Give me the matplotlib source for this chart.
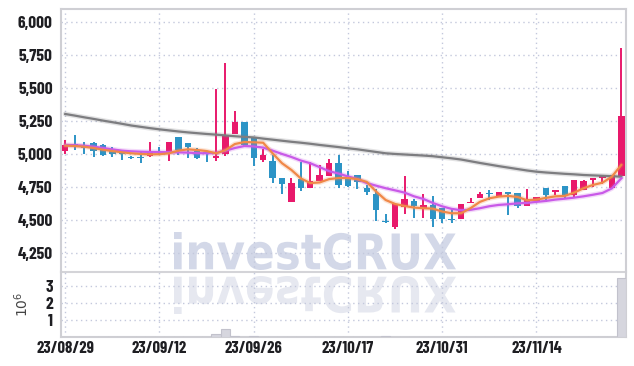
import matplotlib
matplotlib.use("Agg")
import matplotlib.pyplot as plt
import numpy as np
from matplotlib.textpath import TextPath
from matplotlib.font_manager import FontProperties
from matplotlib.patches import PathPatch
from matplotlib.transforms import Affine2D, IdentityTransform

##########################################
# data

dateLabels = ["23/08/29", "23/09/12", "23/09/26", "23/10/17", "23/10/31", "23/11/14"]
dateTicks = [0, 10, 20, 30, 40, 50]

opens = [5025, 5075, 5068, 5083, 5068, 5025, 5020, 4970, 4975, 4987,
         5013, 5008, 5128, 5083, 5025, 5013, 4972, 5003, 5148, 5238,
         5125, 4957, 4947, 4822, 4636, 4812, 4746, 4797, 4837, 4932,
         4807, 4842, 4741, 4699, 4488, 4448, 4599, 4648, 4591, 4611,
         4591, 4507, 4511, 4628, 4669, 4703, 4679, 4714, 4706, 4606,
         4641, 4744, 4711, 4757, 4691, 4724, 4804, 4817, 4742, 4837]
highs = [5105, 5143, 5090, 5090, 5075, 5050, 5025, 4985, 5015, 5090,
         5050, 5088, 5128, 5083, 5045, 5013, 5490, 5690, 5326, 5238,
         5125, 5038, 4992, 4822, 4817, 4937, 4942, 4917, 4962, 4992,
         4872, 4842, 4767, 4736, 4550, 4623, 4837, 4661, 4699, 4686,
         4591, 4581, 4623, 4666, 4716, 4731, 4711, 4714, 4706, 4736,
         4671, 4744, 4731, 4757, 4804, 4804, 4817, 4837, 4842, 5803]
lows = [5000, 5033, 5000, 4975, 4985, 4975, 4957, 4962, 4935, 4977,
        4992, 4945, 4992, 4968, 4962, 4942, 4950, 4983, 5148, 5060,
        4907, 4937, 4782, 4699, 4636, 4721, 4746, 4797, 4837, 4741,
        4750, 4736, 4691, 4490, 4475, 4430, 4548, 4516, 4516, 4450,
        4480, 4480, 4505, 4628, 4669, 4651, 4679, 4535, 4590, 4606,
        4636, 4636, 4690, 4660, 4666, 4724, 4749, 4770, 4742, 4837]
closes = [5068, 5068, 5048, 5025, 4995, 5000, 5000, 4966, 4970, 5013,
          5005, 5088, 5033, 5053, 4968, 5003, 4987, 5143, 5238, 5068,
          4972, 4993, 4817, 4774, 4782, 4746, 4797, 4842, 4932, 4767,
          4757, 4787, 4711, 4580, 4484, 4623, 4661, 4606, 4611, 4511,
          4505, 4503, 4623, 4636, 4701, 4699, 4711, 4699, 4606, 4656,
          4671, 4691, 4731, 4686, 4804, 4799, 4817, 4837, 4842, 5288]

# volume in units of 10^6
volumes = [0.02, 0.02, 0.01, 0.02, 0.01, 0.01, 0.01, 0.01, 0.01, 0.02,
           0.01, 0.02, 0.02, 0.01, 0.02, 0.03, 0.19, 0.48, 0.07, 0.03,
           0.07, 0.02, 0.02, 0.01, 0.02, 0.01, 0.01, 0.01, 0.02, 0.02,
           0.01, 0.01, 0.01, 0.02, 0.07, 0.02, 0.02, 0.01, 0.01, 0.01,
           0.01, 0.01, 0.01, 0.01, 0.01, 0.01, 0.01, 0.01, 0.01, 0.01,
           0.01, 0.01, 0.01, 0.01, 0.02, 0.01, 0.01, 0.01, 0.02, 3.43]

ma5 = [5063, 5060, 5055, 5045, 5032, 5022, 5013, 5005, 5000, 4997,
       4998, 5005, 5025, 5035, 5030, 5022, 5005, 5028, 5075, 5090,
       5088, 5085, 5005, 4930, 4879, 4815, 4780, 4785, 4810, 4818,
       4818, 4810, 4788, 4715, 4652, 4622, 4607, 4595, 4590, 4587,
       4565, 4552, 4552, 4590, 4638, 4665, 4678, 4683, 4675, 4650,
       4655, 4668, 4680, 4683, 4708, 4741, 4766, 4783, 4828, 4917]
ma10 = [5068, 5066, 5062, 5055, 5045, 5035, 5025, 5020, 5017, 5015,
        5014, 5013, 5012, 5010, 5006, 5005, 5008, 5025, 5045, 5060,
        5057, 5048, 5025, 5000, 4977, 4950, 4930, 4900, 4870, 4852,
        4830, 4810, 4780, 4760, 4741, 4725, 4708, 4680, 4660, 4630,
        4604, 4585, 4575, 4578, 4590, 4605, 4615, 4620, 4627, 4630,
        4638, 4645, 4655, 4662, 4670, 4680, 4692, 4705, 4740, 4816]
maLong = [5302, 5290, 5277, 5265, 5252, 5240, 5228, 5215, 5205, 5195,
          5186, 5178, 5170, 5163, 5157, 5151, 5146, 5140, 5134, 5129,
          5125, 5116, 5108, 5100, 5092, 5085, 5077, 5068, 5060, 5052,
          5043, 5035, 5025, 5015, 5005, 5000, 4996, 4992, 4988, 4983,
          4975, 4967, 4958, 4945, 4932, 4920, 4908, 4897, 4886, 4875,
          4866, 4860, 4855, 4850, 4846, 4841, 4838, 4835, 4832, 4828]

priceTicks = [4250, 4500, 4750, 5000, 5250, 5500, 5750, 6000]
volTicks = [1, 2, 3]

##########################################

RED = "#e8196b"
BLUE = "#2c94c6"
GRIDC = "#c3c8dc"
SPINEC = "#cfcfd4"

plt.rcParams['font.family'] = ['Barlow Condensed', 'Archivo Narrow', 'DejaVu Sans']

fig = plt.figure(figsize=(6.34, 3.66), dpi=100)
fig.patch.set_facecolor("white")
axP = fig.add_axes([0.0962, 0.2568, 0.8912, 0.7178])
axV = fig.add_axes([0.0962, 0.0787, 0.8912, 0.1781], sharex=axP)
for ax in (axP, axV):
  ax.set_facecolor("none")

n = len(opens)
idx = np.arange(n)
o = np.array(opens, float)
c = np.array(closes, float)
up = c >= o
cols = [RED if u else BLUE for u in up]

# wicks and bodies
axP.vlines(idx, lows, highs, colors=cols, linewidth=1.4, zorder=3)
bottom = np.minimum(o, c)
height = np.maximum(np.abs(c - o), 8)
axP.bar(idx, height, bottom=bottom, width=0.68, color=cols, linewidth=0, zorder=4)

# moving averages with a soft halo
for vals, col, lw in ((maLong, "#7d7d80", 1.6), (ma10, "#c95ae8", 1.6), (ma5, "#f08848", 1.6)):
  axP.plot(idx, vals, color=col, linewidth=lw + 2.0, alpha=0.22, zorder=5, solid_capstyle="round")
  axP.plot(idx, vals, color=col, linewidth=lw, zorder=6)

axP.set_ylim(4108, 6093)
axP.set_xlim(-0.45, 59.5)
axP.set_yticks(priceTicks)
axP.set_yticklabels(["{:,}".format(t) for t in priceTicks])

# volume
axV.bar(idx, volumes, width=0.98, color="#d6d6de", edgecolor="#c2c2cc", linewidth=0.8, zorder=3)
axV.set_ylim(0, 3.79)
axV.set_yticks(volTicks)
axV.set_yticklabels([str(t) for t in volTicks])
axV.set_ylabel(r"$10^6$", fontsize=10, color="#444444", labelpad=10)

axV.set_xticks(dateTicks)
axV.set_xticklabels(dateLabels)
plt.setp(axP.get_xticklabels(), visible=False)

for ax in (axP, axV):
  ax.grid(True, color=GRIDC, linestyle=(0, (1, 2.5)), linewidth=1)
  ax.tick_params(length=0, labelsize=12.5, labelcolor="#1e1e22", pad=6)
  for lab in ax.get_yticklabels() + ax.get_xticklabels():
    lab.set_fontweight("bold")
  for s in ax.spines.values():
    s.set_color(SPINEC)
    s.set_linewidth(1.5)
axV.tick_params(axis="x", pad=3, labelsize=12)
axP.spines["bottom"].set_color("#d4d4d8")
axV.spines["top"].set_visible(False)

# watermark with reflection, placed in pixel coordinates
fp = FontProperties(family="DejaVu Sans", weight="bold")
tp = TextPath((0, 0), "investCRUX", size=100, prop=fp)
ext = tp.get_extents()
W, H = 282.0, 38.0
sx = W / ext.width
sy = H / ext.height
x0, base = 174.0, 366 - 270.0
main = Affine2D().translate(-ext.x0, -ext.y0).scale(sx, sy).translate(x0, base)
refl = Affine2D().translate(-ext.x0, -ext.y0).scale(sx, -sy).translate(x0, base - 6)
wm = PathPatch(main.transform_path(tp), facecolor="#d3d8e8", edgecolor="none",
               transform=IdentityTransform(), zorder=-1)
wr = PathPatch(refl.transform_path(tp), facecolor="#e6e8f0", edgecolor="none",
               transform=IdentityTransform(), zorder=-1)
fig.add_artist(wm)
fig.add_artist(wr)

fig.savefig("out.png", dpi=100, facecolor="white")
